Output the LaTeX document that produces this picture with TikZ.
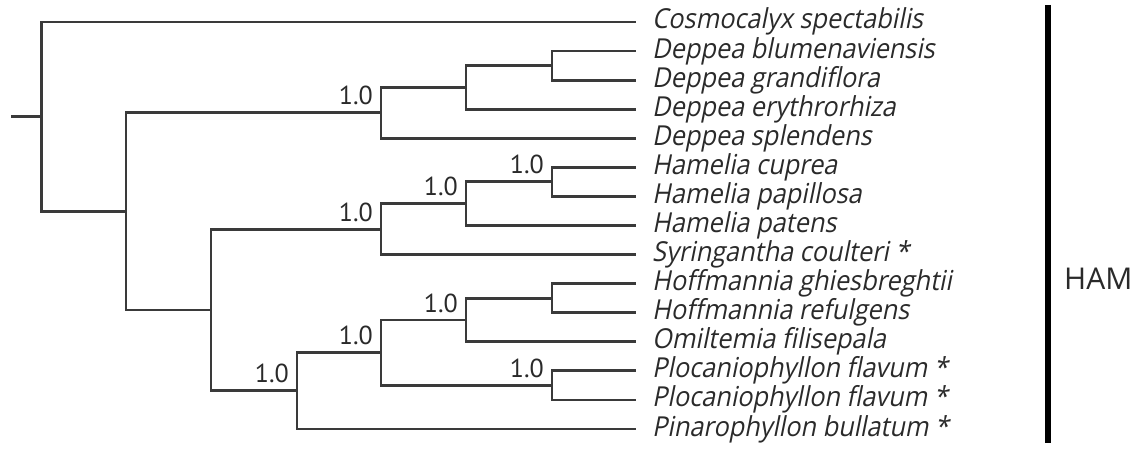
\documentclass[tikz,border=0pt]{standalone}
\usepackage{fontspec}
\setmainfont{PT Sans}
\newfontfamily\leaffont[FakeSlant=0.2,FakeStretch=0.92]{Open Sans}
\newfontfamily\hamfont{Open Sans}
\definecolor{treeline}{HTML}{3A3A3A}
\definecolor{treetext}{HTML}{2A2A2A}
\tikzset{
  br/.style={draw=treeline, line width=2.8pt},
  leaf/.style={anchor=base west, inner sep=0pt, text=treetext, font=\leaffont\fontsize{27.5}{27.5}\selectfont},
  supp/.style={anchor=base east, inner sep=0pt, text=treetext, font=\fontsize{26}{26}\selectfont},
  clade/.style={anchor=west, inner sep=0pt, text=treetext, font=\hamfont\fontsize{30}{30}\selectfont},
}
\begin{document}
\begin{tikzpicture}[x=1pt,y=-1pt]
\useasboundingbox (0,0) rectangle (1135,449);
% leaf tips
\foreach \i/\yy in {1/22,2/51.07,3/80.14,4/109.2,5/138.3,6/167.4,7/196.4,8/225.5,9/254.6,10/283.6,11/312.7,12/341.8,13/370.8,14/399.9,15/429}{
  \coordinate (t\i) at (636,\yy);
}
% internal nodes
\coordinate (D3) at (552,65.6);
\coordinate (D2) at (466,87.4);
\coordinate (D) at (381,112.85);
\coordinate (Ha2) at (552,181.9);
\coordinate (Ha) at (466,203.7);
\coordinate (H) at (381,229.15);
\coordinate (Ho2) at (552,298.15);
\coordinate (Ho) at (466,320);
\coordinate (Pl) at (552,385.35);
\coordinate (Q) at (381,352.7);
\coordinate (P) at (297,390.8);
\coordinate (L) at (211,310);
\coordinate (A) at (126,211.4);
\coordinate (R) at (41.5,116.7);
\coordinate (root) at (11,116.7);
% branches
\draw[br] (root) -- (R);
\draw[br] (R) |- (t1);
\draw[br] (R) |- (A);
\draw[br] (A) |- (D);
\draw[br] (A) |- (L);
\draw[br] (D) |- (D2);
\draw[br] (D) |- (t5);
\draw[br] (D2) |- (D3);
\draw[br] (D2) |- (t4);
\draw[br] (D3) |- (t2);
\draw[br] (D3) |- (t3);
\draw[br] (L) |- (H);
\draw[br] (L) |- (P);
\draw[br] (H) |- (Ha);
\draw[br] (H) |- (t9);
\draw[br] (Ha) |- (Ha2);
\draw[br] (Ha) |- (t8);
\draw[br] (Ha2) |- (t6);
\draw[br] (Ha2) |- (t7);
\draw[br] (P) |- (Q);
\draw[br] (P) |- (t15);
\draw[br] (Q) |- (Ho);
\draw[br] (Q) |- (Pl);
\draw[br] (Ho) |- (Ho2);
\draw[br] (Ho) |- (t12);
\draw[br] (Ho2) |- (t10);
\draw[br] (Ho2) |- (t11);
\draw[br] (Pl) |- (t13);
\draw[br] (Pl) |- (t14);
% support values
\foreach \n in {D,H,Ha,Ha2,Ho,Q,Pl,P}{
  \node[supp] (s\n) at ([xshift=-8pt,yshift=8pt]\n) {1.0};
}
% leaf labels
\foreach \i/\txt in {1/Cosmocalyx spectabilis,2/Deppea blumenaviensis,3/Deppea grandiflora,4/Deppea erythrorhiza,5/Deppea splendens,6/Hamelia cuprea,7/Hamelia papillosa,8/Hamelia patens,9/Syringantha coulteri *,10/Hoffmannia ghiesbreghtii,11/Hoffmannia refulgens,12/Omiltemia filisepala,13/Plocaniophyllon flavum *,14/Plocaniophyllon flavum *,15/Pinarophyllon bullatum *}{
  \node[leaf] (n\i) at ([xshift=16pt,yshift=-7pt]t\i) {\txt};
}
% clade bar
\coordinate (bt) at (1048,5);
\coordinate (bb) at (1048,443);
\draw[line width=6pt, black] (bt) -- (bb);
\node[clade] (ham) at (1064,279) {HAM};
\end{tikzpicture}
\end{document}
